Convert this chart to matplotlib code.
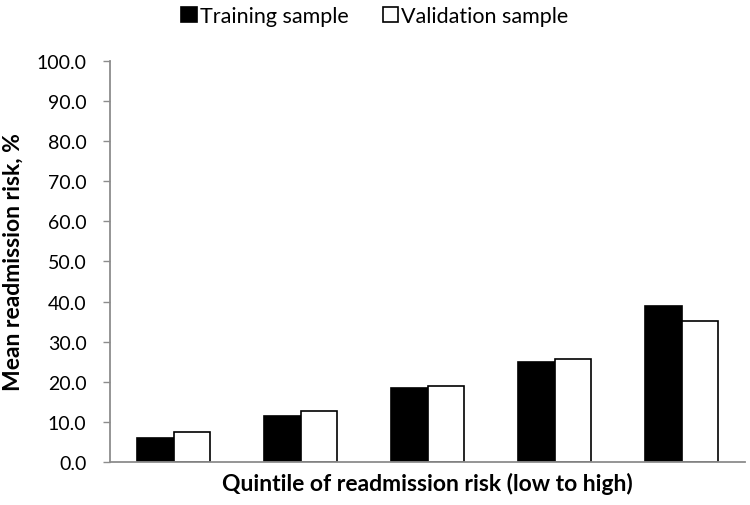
import matplotlib.pyplot as plt
import numpy as np

plt.rcParams['font.family'] = ['Lato', 'DejaVu Sans']

quintiles = ['1', '2', '3', '4', '5']
training = [5.9, 11.5, 18.4, 25.0, 38.9]
validation = [7.4, 12.8, 19.0, 25.8, 35.2]
yticks = np.arange(0, 101, 10)

fig = plt.figure(figsize=(7.5, 5.06), dpi=100)
ax = fig.add_axes([0.1467, 0.085, 0.8467, 0.7925])

x = np.arange(len(quintiles))
w = 0.29
ax.bar(x - w / 2, training, w, color='black', edgecolor='black', linewidth=1.2,
       label='Training sample')
ax.bar(x + w / 2, validation, w, color='white', edgecolor='black', linewidth=1.2,
       label='Validation sample')

ax.set_xlim(-0.5, len(quintiles) - 0.5)
ax.set_ylim(0, 100)
ax.set_yticks(yticks)
ax.set_yticklabels([f'{v:.1f}' for v in yticks], fontsize=14)
ax.set_xticks([])
ax.tick_params(axis='y', length=5, width=1, color='#8c8c8c', pad=12)

for s in ['top', 'right']:
    ax.spines[s].set_visible(False)
for s in ['bottom', 'left']:
    ax.spines[s].set_color('#8c8c8c')
    ax.spines[s].set_linewidth(1.3)

ax.set_ylabel('Mean readmission risk, %', fontsize=16.5, fontweight='bold', labelpad=9)
ax.set_xlabel('Quintile of readmission risk (low to high)', fontsize=16.5,
              fontweight='bold', labelpad=7)

fig.legend(loc='upper center', bbox_to_anchor=(0.5, 1.025), ncol=2, frameon=False,
           fontsize=15.5, handlelength=0.7, handleheight=0.7, handletextpad=0.15,
           columnspacing=1.6)

fig.savefig('out.png', dpi=100)
